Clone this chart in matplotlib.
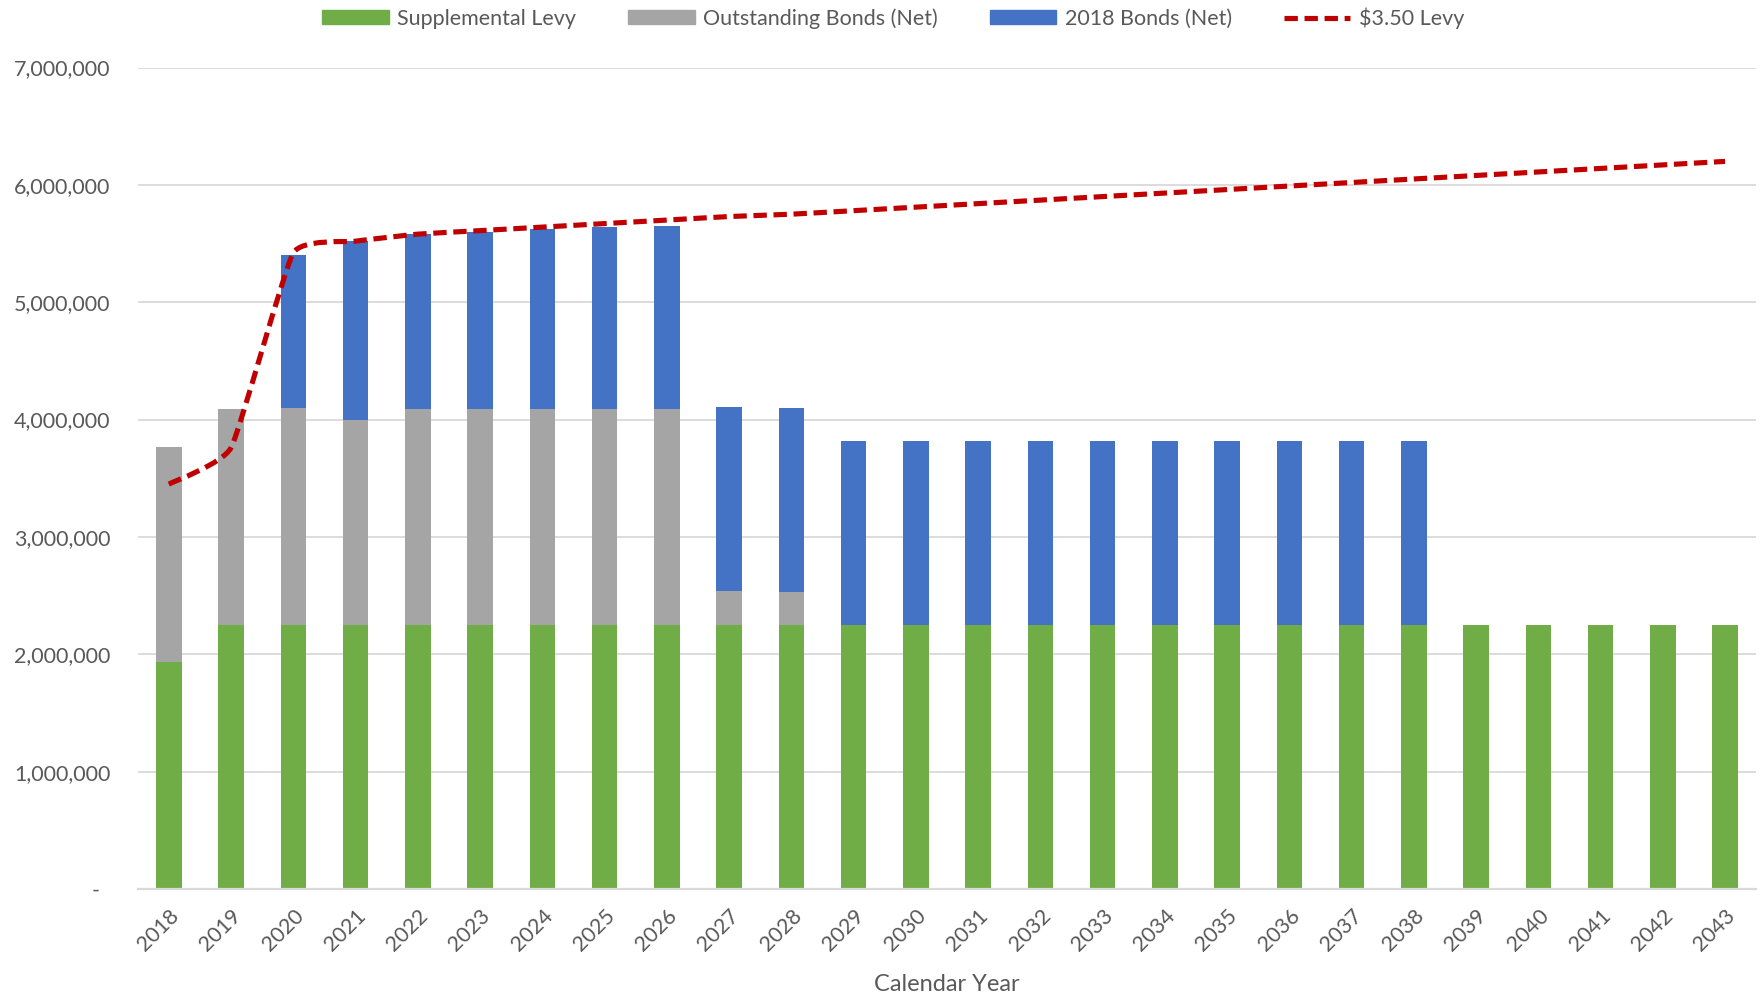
"""
Levy / bond chart: stacked bars per calendar year with a smoothed dashed levy line.
"""

import numpy as np
import matplotlib
matplotlib.use("Agg")
import matplotlib.pyplot as plt
from matplotlib.path import Path
from matplotlib.patches import PathPatch
from matplotlib.lines import Line2D
from matplotlib.ticker import FuncFormatter

# Data
years = [str(y) for y in range(2018, 2044)]

supplementalLevy = [1938000] + [2247000] * 25

outstandingBonds = [1831000, 1846000, 1848000, 1746000, 1843000, 1846000,
                    1843000, 1846000, 1846000, 290000, 284000] + [0] * 15

bonds2018 = [0, 0, 1310000, 1525000, 1488000, 1507000, 1536000, 1544000,
             1555000, 1567000, 1569000] + [1567000] * 10 + [0] * 5

levy350 = [3450000, 3760000, 5420000, 5520000, 5580000, 5610000, 5640000,
           5670000, 5700000, 5730000, 5750000, 5780000, 5810000, 5840000,
           5870000, 5900000, 5930000, 5960000, 5990000, 6020000, 6050000,
           6080000, 6110000, 6140000, 6170000, 6200000]

GREEN = "#70AD47"
GRAY = "#A5A5A5"
BLUE = "#4472C4"
RED = "#C00000"
TEXT = "#595959"
GRID = "#D9D9D9"

plt.rcParams["font.family"] = ["Lato", "DejaVu Sans"]


# Build a smooth bezier path through the points, like Excel's smoothed line
def smoothPath(xs, ys, tension=0.07):
    xs = np.asarray(xs, dtype=float)
    ys = np.asarray(ys, dtype=float)
    verts = [(xs[0], ys[0])]
    codes = [Path.MOVETO]
    n = len(xs)
    for i in range(n - 1):
        i0 = max(i - 1, 0)
        i3 = min(i + 2, n - 1)
        c1 = (xs[i] + (xs[i + 1] - xs[i0]) * tension,
              ys[i] + (ys[i + 1] - ys[i0]) * tension)
        c2 = (xs[i + 1] - (xs[i3] - xs[i]) * tension,
              ys[i + 1] - (ys[i3] - ys[i]) * tension)
        verts += [c1, c2, (xs[i + 1], ys[i + 1])]
        codes += [Path.CURVE4] * 3
    return Path(verts, codes)


def yFormat(value, pos):
    if value == 0:
        return "-  "
    return f"{value:,.0f}"


def plot():
    fig = plt.figure(figsize=(17.65, 10), dpi=100)
    ax = fig.add_axes([0.078, 0.111, 0.917, 0.8215])

    x = np.arange(len(years))
    width = 0.41
    green = np.array(supplementalLevy)
    gray = np.array(outstandingBonds)
    blue = np.array(bonds2018)

    ax.bar(x, green, width, color=GREEN, zorder=2)
    ax.bar(x, gray, width, bottom=green, color=GRAY, zorder=2)
    ax.bar(x, blue, width, bottom=green + gray, color=BLUE, zorder=2)

    # Smoothed dashed levy line
    dash = (0, (2.6, 1.3))
    patch = PathPatch(smoothPath(x, levy350), facecolor="none", edgecolor=RED,
                      linewidth=3.7, linestyle=dash, zorder=3, capstyle="butt")
    ax.add_patch(patch)

    ax.set_xlim(-0.5, len(years) - 0.5)
    ax.set_ylim(0, 7000000)
    ax.set_yticks(np.arange(0, 7000001, 1000000))
    ax.yaxis.set_major_formatter(FuncFormatter(yFormat))
    ax.grid(axis="y", color=GRID, linewidth=1.3, zorder=0)
    ax.set_axisbelow(True)

    for side in ["top", "right", "left"]:
        ax.spines[side].set_visible(False)
    ax.spines["bottom"].set_color(GRID)
    ax.spines["bottom"].set_linewidth(1.6)

    ax.set_xticks(x)
    ax.set_xticklabels(years, rotation=45, ha="right", va="top",
                       rotation_mode="anchor")
    ax.tick_params(axis="x", length=0, pad=12, labelsize=15.5, labelcolor=TEXT)
    ax.tick_params(axis="y", length=0, pad=19.5, labelsize=15.5, labelcolor=TEXT)

    ax.set_xlabel("Calendar Year", fontsize=17, color=TEXT, labelpad=14)

    # Legend across the top
    handles = [
        plt.Rectangle((0, 0), 1, 1, color=GREEN),
        plt.Rectangle((0, 0), 1, 1, color=GRAY),
        plt.Rectangle((0, 0), 1, 1, color=BLUE),
        Line2D([0], [0], color=RED, linewidth=3.7, linestyle=dash),
    ]
    labels = ["Supplemental Levy", "Outstanding Bonds (Net)", "2018 Bonds (Net)", "$3.50 Levy"]
    fig.legend(handles, labels, loc="upper center", bbox_to_anchor=(0.506, 1.012),
               ncol=4, frameon=False, fontsize=15.5, labelcolor=TEXT,
               handlelength=3.1, handleheight=0.6, handletextpad=0.4,
               columnspacing=2.4)

    fig.savefig("out.png", dpi=100)


def main():
    plot()


main()
